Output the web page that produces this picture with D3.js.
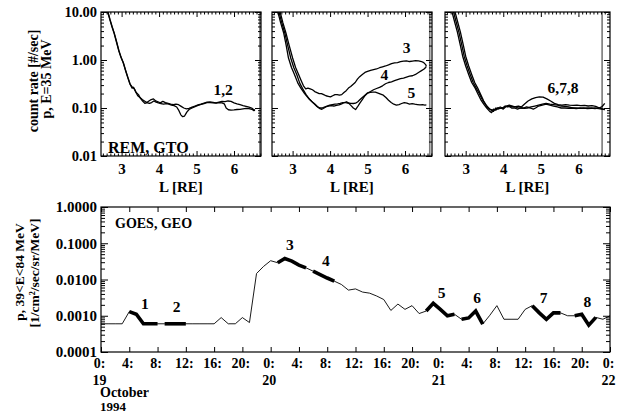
<!DOCTYPE html>
<html><head><meta charset="utf-8">
<script src="https://cdn.jsdelivr.net/npm/d3@7"></script>
<style>
html,body{margin:0;padding:0;background:#fff;}
svg{display:block;font-family:"Liberation Serif","Times New Roman",serif;font-weight:bold;}
</style></head><body>
<svg id="chart" width="619" height="413"></svg>
<script>
// ---- REM count rate (p, E=35 MeV) versus L, one [L, rate] list per pass ----
const remPass1 = [[2.62,10.5],[2.68,7.2],[2.74,5.0],[2.80,3.6],[2.86,2.4],[2.92,1.6],[2.98,1.15],[3.04,0.9],[3.10,0.62],[3.16,0.44],[3.22,0.32],[3.28,0.26],[3.32,0.27],[3.37,0.22],[3.43,0.18],[3.49,0.165],[3.55,0.15],[3.61,0.14],[3.67,0.13],[3.73,0.14],[3.79,0.15],[3.85,0.155],[3.91,0.14],[3.97,0.135],[4.03,0.128],[4.10,0.137],[4.17,0.13],[4.24,0.125],[4.31,0.12],[4.38,0.118],[4.45,0.121],[4.52,0.117],[4.59,0.108],[4.66,0.100],[4.73,0.096],[4.80,0.098],[4.88,0.104],[4.96,0.11],[5.04,0.116],[5.12,0.121],[5.20,0.127],[5.28,0.132],[5.36,0.134],[5.44,0.131],[5.52,0.128],[5.60,0.133],[5.68,0.138],[5.76,0.136],[5.84,0.14],[5.92,0.137],[6.00,0.128],[6.08,0.122],[6.16,0.117],[6.24,0.112],[6.32,0.108],[6.40,0.104],[6.47,0.10],[6.52,0.093],[6.56,0.09]];
const remPass2 = [[2.63,10.5],[2.69,7.0],[2.75,4.9],[2.81,3.5],[2.87,2.35],[2.93,1.55],[2.99,1.12],[3.05,0.86],[3.11,0.6],[3.17,0.43],[3.23,0.31],[3.29,0.27],[3.34,0.25],[3.39,0.21],[3.45,0.19],[3.50,0.16],[3.56,0.14],[3.62,0.125],[3.68,0.13],[3.74,0.125],[3.80,0.13],[3.86,0.14],[3.92,0.133],[3.98,0.128],[4.05,0.124],[4.12,0.12],[4.19,0.124],[4.26,0.12],[4.33,0.115],[4.40,0.112],[4.47,0.105],[4.53,0.088],[4.58,0.072],[4.63,0.066],[4.68,0.068],[4.74,0.082],[4.80,0.093],[4.88,0.1],[4.96,0.107],[5.04,0.113],[5.12,0.119],[5.20,0.124],[5.28,0.129],[5.36,0.13],[5.44,0.128],[5.52,0.126],[5.60,0.13],[5.68,0.128],[5.74,0.122],[5.79,0.1],[5.85,0.092],[5.92,0.09],[6.00,0.091],[6.08,0.093],[6.16,0.094],[6.24,0.096],[6.32,0.098],[6.40,0.097],[6.48,0.094],[6.53,0.088],[6.56,0.09]];
const remPass3 = [[2.66,10.5],[2.74,6.0],[2.82,3.7],[2.91,2.0],[3.00,1.1],[3.08,0.7],[3.16,0.5],[3.23,0.37],[3.29,0.29],[3.35,0.25],[3.41,0.26],[3.47,0.25],[3.53,0.24],[3.59,0.22],[3.65,0.21],[3.71,0.2],[3.77,0.2],[3.83,0.19],[3.89,0.18],[3.95,0.175],[4.01,0.17],[4.07,0.18],[4.13,0.19],[4.19,0.19],[4.25,0.185],[4.31,0.19],[4.37,0.21],[4.43,0.23],[4.49,0.26],[4.55,0.28],[4.61,0.31],[4.67,0.34],[4.73,0.4],[4.79,0.45],[4.86,0.5],[4.93,0.55],[5.00,0.58],[5.08,0.61],[5.16,0.63],[5.24,0.65],[5.32,0.69],[5.40,0.72],[5.48,0.75],[5.56,0.79],[5.64,0.84],[5.72,0.87],[5.80,0.88],[5.88,0.92],[5.96,0.95],[6.04,0.96],[6.12,0.93],[6.20,0.95],[6.28,0.97],[6.36,0.96],[6.44,0.93],[6.50,0.88],[6.55,0.8],[6.57,0.75]];
const remPass4 = [[2.63,10.5],[2.71,6.0],[2.79,3.7],[2.87,2.0],[2.95,1.1],[3.03,0.7],[3.11,0.5],[3.19,0.33],[3.27,0.25],[3.36,0.19],[3.46,0.15],[3.56,0.125],[3.65,0.108],[3.72,0.10],[3.78,0.1],[3.85,0.105],[3.92,0.11],[3.99,0.115],[4.06,0.118],[4.13,0.12],[4.20,0.122],[4.27,0.125],[4.34,0.13],[4.41,0.13],[4.48,0.127],[4.55,0.125],[4.62,0.124],[4.68,0.126],[4.74,0.135],[4.80,0.15],[4.86,0.165],[4.93,0.185],[5.00,0.205],[5.08,0.22],[5.16,0.24],[5.24,0.255],[5.32,0.27],[5.40,0.29],[5.48,0.32],[5.56,0.34],[5.64,0.35],[5.72,0.37],[5.80,0.39],[5.88,0.41],[5.96,0.42],[6.04,0.44],[6.12,0.46],[6.20,0.47],[6.28,0.5],[6.36,0.55],[6.44,0.6],[6.50,0.64],[6.55,0.7],[6.57,0.74]];
const remPass5 = [[2.60,10.5],[2.68,6.0],[2.76,3.7],[2.83,2.0],[2.89,1.1],[2.97,0.7],[3.05,0.5],[3.14,0.33],[3.22,0.26],[3.32,0.2],[3.42,0.16],[3.52,0.135],[3.60,0.12],[3.67,0.105],[3.73,0.097],[3.78,0.094],[3.84,0.1],[3.90,0.107],[3.96,0.11],[4.03,0.112],[4.10,0.11],[4.17,0.114],[4.24,0.116],[4.31,0.122],[4.38,0.13],[4.44,0.135],[4.50,0.125],[4.56,0.112],[4.62,0.1],[4.68,0.093],[4.73,0.105],[4.79,0.125],[4.86,0.15],[4.93,0.18],[5.00,0.205],[5.07,0.212],[5.14,0.215],[5.21,0.214],[5.28,0.205],[5.35,0.195],[5.42,0.185],[5.49,0.165],[5.56,0.145],[5.63,0.13],[5.70,0.12],[5.77,0.115],[5.84,0.118],[5.91,0.124],[5.98,0.13],[6.05,0.126],[6.12,0.121],[6.19,0.123],[6.26,0.12],[6.33,0.118],[6.40,0.116],[6.47,0.117],[6.53,0.115],[6.57,0.116]];
const remPass6 = [[2.63,10.5],[2.70,6.5],[2.78,3.8],[2.86,2.0],[2.92,1.2],[3.00,0.75],[3.08,0.5],[3.16,0.34],[3.24,0.27],[3.32,0.2],[3.40,0.15],[3.48,0.12],[3.56,0.10],[3.64,0.085],[3.69,0.08],[3.74,0.095],[3.80,0.09],[3.86,0.1],[3.92,0.105],[3.98,0.1],[4.05,0.11],[4.12,0.105],[4.20,0.11],[4.30,0.105],[4.40,0.11],[4.48,0.105],[4.56,0.12],[4.66,0.14],[4.76,0.155],[4.86,0.165],[4.96,0.17],[5.06,0.168],[5.16,0.155],[5.26,0.14],[5.36,0.125],[5.46,0.118],[5.56,0.115],[5.66,0.118],[5.76,0.115],[5.86,0.113],[5.96,0.115],[6.06,0.112],[6.16,0.113],[6.26,0.11],[6.36,0.112],[6.46,0.108],[6.56,0.10],[6.66,0.095],[6.70,0.093]];
const remPass7 = [[2.67,10.5],[2.74,6.5],[2.82,3.8],[2.90,2.0],[2.96,1.2],[3.04,0.75],[3.12,0.5],[3.20,0.34],[3.28,0.26],[3.36,0.2],[3.44,0.15],[3.52,0.12],[3.60,0.1],[3.68,0.09],[3.74,0.085],[3.80,0.1],[3.86,0.095],[3.94,0.1],[4.00,0.095],[4.06,0.105],[4.14,0.11],[4.22,0.1],[4.30,0.1],[4.38,0.095],[4.46,0.1],[4.54,0.1],[4.62,0.105],[4.72,0.1],[4.80,0.095],[4.86,0.1],[4.94,0.11],[5.04,0.115],[5.14,0.12],[5.24,0.115],[5.34,0.11],[5.44,0.105],[5.54,0.1],[5.64,0.1],[5.74,0.098],[5.84,0.1],[5.94,0.097],[6.04,0.1],[6.14,0.098],[6.24,0.1],[6.34,0.1],[6.44,0.097],[6.54,0.1],[6.62,0.105],[6.70,0.125]];
const remPass8 = [[2.71,10.5],[2.78,6.5],[2.86,3.8],[2.94,2.0],[3.00,1.2],[3.08,0.75],[3.16,0.5],[3.24,0.34],[3.32,0.26],[3.40,0.19],[3.48,0.14],[3.56,0.11],[3.64,0.095],[3.72,0.09],[3.78,0.092],[3.84,0.1],[3.92,0.098],[4.00,0.1],[4.08,0.11],[4.16,0.115],[4.24,0.11],[4.32,0.105],[4.40,0.1],[4.48,0.1],[4.56,0.098],[4.64,0.1],[4.74,0.105],[4.84,0.11],[4.94,0.115],[5.04,0.12],[5.14,0.125],[5.24,0.12],[5.34,0.118],[5.44,0.115],[5.54,0.11],[5.64,0.108],[5.74,0.105],[5.84,0.1],[5.94,0.1],[6.04,0.098],[6.14,0.1],[6.24,0.097],[6.34,0.098],[6.44,0.1],[6.54,0.097],[6.62,0.095],[6.70,0.092]];

const remTickL = [3, 4, 5, 6];
const remTickRate = [0.01, 0.1, 1, 10];

// ---- GOES proton flux, 39<E<84 MeV, hourly from 19 Oct 1994 0:00 ----
const goesFlux = [
  0.0006, 0.0006, 0.0006, 0.0006, 0.0013, 0.0011, 0.0006, 0.0006, 0.0006, 0.0006,
  0.0006, 0.0006, 0.0006, 0.0006, 0.0006, 0.0006, 0.0006, 0.00089, 0.0006, 0.0006,
  0.00089, 0.00065, 0.0146, 0.023, 0.033, 0.029, 0.038, 0.032, 0.025, 0.021,
  0.017, 0.0137, 0.011, 0.009, 0.0073, 0.0051, 0.0055, 0.0045, 0.0042, 0.0035,
  0.0028, 0.0014, 0.0021, 0.0015, 0.0019, 0.00115, 0.00135, 0.0022, 0.0015, 0.0010,
  0.0011, 0.0008, 0.00087, 0.00135, 0.00059, 0.00103, 0.0019, 0.0008, 0.0008, 0.0008,
  0.0015, 0.0019, 0.0012, 0.0008, 0.0012, 0.0012, 0.0010, 0.0010, 0.0011, 0.00055,
  0.0009, 0.0008, 0.0010
];
// REM pass windows (start hour, end hour) and their numbers
const passWindows = [[4,8],[9,12],[25,29],[30,33],[46,50],[51,54],[61,65],[67,70]];
const passNames = ["1","2","3","4","5","6","7","8"];
const goesTickHours = [0,4,8,12,16,20,24,28,32,36,40,44,48,52,56,60,64,68,72];
const goesDayNames = ["19","20","21","22"];
const goesTickFlux = [0.0001, 0.001, 0.01, 0.1, 1];

// ---------------------------------------------------------------------------
const svg = d3.select("#chart");

function logMinors(lo, hi) {
  const out = [];
  for (let e = Math.round(Math.log10(lo)); e < Math.round(Math.log10(hi)); e++)
    for (let m = 2; m <= 9; m++) out.push(m * Math.pow(10, e));
  return out;
}
function styler(size) {
  return g => {
    g.select(".domain").remove();
    g.selectAll("line").attr("stroke", "#000").attr("stroke-width", 1);
    g.selectAll("text").attr("font-family", "Liberation Serif").attr("font-weight", "bold")
      .attr("font-size", size).attr("fill", "#000");
  };
}

// ---- top row: three L-profile panels ----
const topPanels = [
  { x0: 101, x1: 261, L0: 2.45, L1: 6.72, markL: 6.69, passes: [remPass1, remPass2],
    notes: [{t: "1,2", L: 5.71, v: 0.19}], showY: true },
  { x0: 272, x1: 432, L0: 2.45, L1: 6.72, markL: 6.66, passes: [remPass3, remPass4, remPass5],
    notes: [{t: "3", L: 6.04, v: 1.41}, {t: "4", L: 5.45, v: 0.39}, {t: "5", L: 6.17, v: 0.164}] },
  { x0: 445, x1: 610, L0: 2.45, L1: 6.84, markL: 6.63, passes: [remPass6, remPass7, remPass8],
    notes: [{t: "6,7,8", L: 5.59, v: 0.21}] }
];
const topY0 = 12, topY1 = 156;
const yRem = d3.scaleLog().domain([0.01, 10]).range([topY1, topY0]);

topPanels.forEach((p, i) => {
  const x = d3.scaleLinear().domain([p.L0, p.L1]).range([p.x0, p.x1]);
  const g = svg.append("g");
  const clipId = "clipTop" + i;
  svg.append("clipPath").attr("id", clipId).append("rect")
    .attr("x", p.x0).attr("y", topY0).attr("width", p.x1 - p.x0).attr("height", topY1 - topY0);

  // marker line
  g.append("line").attr("x1", x(p.markL)).attr("x2", x(p.markL))
    .attr("y1", topY0).attr("y2", topY1).attr("stroke", "#7a7a7a").attr("stroke-width", 1.6);

  // curves
  const line = d3.line().x(d => x(d[0])).y(d => yRem(d[1]));
  p.passes.forEach(pass => {
    g.append("path").attr("d", line(pass)).attr("fill", "none").attr("stroke", "#000")
      .attr("stroke-width", 1.3).attr("stroke-linejoin", "round").attr("clip-path", `url(#${clipId})`);
  });

  // axes
  const minorL = d3.range(25, Math.floor(p.L1 * 10) + 1).map(d => d / 10).filter(d => d > p.L0 && d % 1 !== 0);
  g.append("g").attr("transform", `translate(0,${topY1})`)
    .call(d3.axisBottom(x).tickValues(remTickL).tickSizeInner(-5).tickSizeOuter(0).tickPadding(7).tickFormat(d3.format("d"))).call(styler(15));
  g.append("g").attr("transform", `translate(0,${topY1})`)
    .call(d3.axisBottom(x).tickValues(minorL).tickSize(-2.5).tickFormat("")).call(styler(14));
  g.append("g").attr("transform", `translate(0,${topY0})`)
    .call(d3.axisTop(x).tickValues(remTickL).tickSize(-5).tickFormat("")).call(styler(14));
  g.append("g").attr("transform", `translate(0,${topY0})`)
    .call(d3.axisTop(x).tickValues(minorL).tickSize(-2.5).tickFormat("")).call(styler(14));

  g.append("g").attr("transform", `translate(${p.x0},0)`)
    .call(d3.axisLeft(yRem).tickValues(remTickRate).tickSizeInner(-6).tickSizeOuter(0).tickPadding(4)
      .tickFormat(p.showY ? d3.format(".2f") : "")).call(styler(14.5));
  g.append("g").attr("transform", `translate(${p.x0},0)`)
    .call(d3.axisLeft(yRem).tickValues(logMinors(0.01, 10)).tickSize(-3).tickFormat("")).call(styler(14));
  g.append("g").attr("transform", `translate(${p.x1},0)`)
    .call(d3.axisRight(yRem).tickValues(remTickRate).tickSize(-6).tickFormat("")).call(styler(14));
  g.append("g").attr("transform", `translate(${p.x1},0)`)
    .call(d3.axisRight(yRem).tickValues(logMinors(0.01, 10)).tickSize(-3).tickFormat("")).call(styler(14));

  // frame
  g.append("rect").attr("x", p.x0).attr("y", topY0).attr("width", p.x1 - p.x0).attr("height", topY1 - topY0)
    .attr("fill", "none").attr("stroke", "#000").attr("stroke-width", 1.2);

  // pass numbers
  p.notes.forEach(n => {
    g.append("text").attr("x", x(n.L)).attr("y", yRem(n.v)).attr("text-anchor", "middle")
      .attr("font-size", 15.5).text(n.t);
  });

  g.append("text").attr("x", (p.x0 + p.x1) / 2).attr("y", 192).attr("text-anchor", "middle")
    .attr("font-size", 15).text("L [RE]");
});

svg.append("text").attr("x", 108).attr("y", 153).attr("font-size", 16).text("REM, GTO");
svg.append("text").attr("transform", "translate(38,81) rotate(-90)").attr("text-anchor", "middle")
  .attr("font-size", 14).text("count rate [#/sec]");
svg.append("text").attr("transform", "translate(51,79) rotate(-90)").attr("text-anchor", "middle")
  .attr("font-size", 14).text("p, E=35 MeV");

// ---- bottom: GOES time series ----
const bx0 = 101, bx1 = 610, by0 = 207, by1 = 352;
const xT = d3.scaleLinear().domain([0, 72]).range([bx0, bx1]);
const yG = d3.scaleLog().domain([0.0001, 1]).range([by1, by0]);
const gb = svg.append("g");
const pts = goesFlux.map((v, h) => [h, v]);
const gLine = d3.line().x(d => xT(d[0])).y(d => yG(d[1]));

gb.append("path").attr("d", gLine(pts)).attr("fill", "none").attr("stroke", "#000")
  .attr("stroke-width", 0.9).attr("stroke-linejoin", "miter");
passWindows.forEach(w => {
  gb.append("path").attr("d", gLine(pts.slice(w[0], w[1] + 1))).attr("fill", "none")
    .attr("stroke", "#000").attr("stroke-width", 3.6).attr("stroke-linejoin", "miter").attr("stroke-linecap", "butt");
});

// pass numbers above the highlighted windows
const passLabelAt = [[6.2, 0.0015], [10.7, 0.00126], [26.7, 0.066], [31.8, 0.023], [48.2, 0.003], [53.2, 0.0022], [62.6, 0.0023], [68.8, 0.0017]];
passNames.forEach((name, i) => {
  gb.append("text").attr("x", xT(passLabelAt[i][0])).attr("y", yG(passLabelAt[i][1]))
    .attr("text-anchor", "middle").attr("font-size", 15.5).text(name);
});

// axes
gb.append("g").attr("transform", `translate(0,${by1})`)
  .call(d3.axisBottom(xT).tickValues(goesTickHours).tickSizeInner(-5).tickSizeOuter(0).tickPadding(6)
    .tickFormat(h => (h % 24) + ":")).call(styler(14))
  .selectAll(".tick text").each(function (h) {
    const t = d3.select(this).attr("dx", -2);
    if (h % 24 === 0) {
      t.append("tspan").attr("x", 0).attr("dx", -2).attr("dy", "1.2em").text(goesDayNames[h / 24]);
    }
  });
gb.append("g").attr("transform", `translate(0,${by0})`)
  .call(d3.axisTop(xT).tickValues(goesTickHours).tickSize(-5).tickFormat("")).call(styler(14));
gb.append("g").attr("transform", `translate(${bx0},0)`)
  .call(d3.axisLeft(yG).tickValues(goesTickFlux).tickSizeInner(-7).tickSizeOuter(0).tickPadding(4)
    .tickFormat(d3.format(".4f"))).call(styler(15));
gb.append("g").attr("transform", `translate(${bx0},0)`)
  .call(d3.axisLeft(yG).tickValues(logMinors(0.0001, 1)).tickSize(-4).tickFormat("")).call(styler(14));
gb.append("g").attr("transform", `translate(${bx1},0)`)
  .call(d3.axisRight(yG).tickValues(goesTickFlux).tickSize(-7).tickFormat("")).call(styler(14));
gb.append("g").attr("transform", `translate(${bx1},0)`)
  .call(d3.axisRight(yG).tickValues(logMinors(0.0001, 1)).tickSize(-4).tickFormat("")).call(styler(14));

gb.append("rect").attr("x", bx0).attr("y", by0).attr("width", bx1 - bx0).attr("height", by1 - by0)
  .attr("fill", "none").attr("stroke", "#000").attr("stroke-width", 1.2);

gb.append("text").attr("x", 115).attr("y", 228).attr("font-size", 14).text("GOES, GEO");
gb.append("text").attr("x", 100).attr("y", 397).attr("font-size", 14).text("October");
gb.append("text").attr("x", 100).attr("y", 411).attr("font-size", 13).text("1994");

svg.append("text").attr("transform", "translate(24,272) rotate(-90)").attr("text-anchor", "middle")
  .attr("font-size", 13.5).text("p, 39<E<84 MeV");
svg.append("text").attr("transform", "translate(39,273) rotate(-90)").attr("text-anchor", "middle")
  .attr("font-size", 13.5).text("[1/cm²/sec/sr/MeV]");
</script>
</body></html>
